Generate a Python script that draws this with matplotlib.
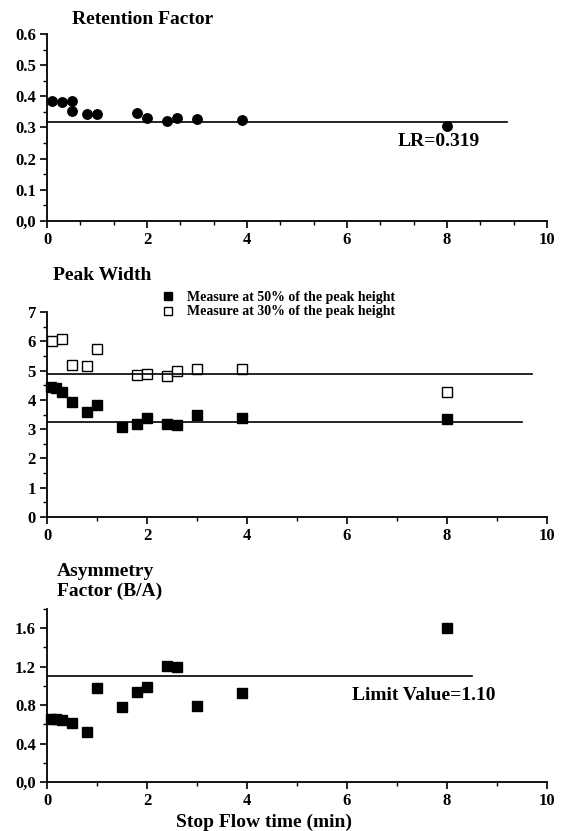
import matplotlib.pyplot as plt
from matplotlib.ticker import MultipleLocator, FuncFormatter
from matplotlib.lines import Line2D

plt.rcParams['font.family'] = 'Liberation Serif'
plt.rcParams['font.weight'] = 'bold'

# stop flow times (min)
t_rf = [0.1, 0.3, 0.5, 0.5, 0.8, 1.0, 1.8, 2.0, 2.4, 2.6, 3.0, 3.9, 8.0]
retention = [0.386, 0.383, 0.386, 0.352, 0.344, 0.344, 0.345, 0.332, 0.320, 0.331, 0.327, 0.323, 0.306]
lr_value = 0.319

t_w30 = [0.1, 0.3, 0.5, 0.8, 1.0, 1.8, 2.0, 2.4, 2.6, 3.0, 3.9, 8.0]
width30 = [6.0, 6.09, 5.18, 5.15, 5.73, 4.86, 4.9, 4.81, 4.98, 5.07, 5.06, 4.26]
mean30 = 4.9

t_w50 = [0.08, 0.17, 0.3, 0.5, 0.8, 1.0, 1.5, 1.8, 2.0, 2.4, 2.6, 3.0, 3.9, 8.0]
width50 = [4.45, 4.42, 4.28, 3.92, 3.57, 3.82, 3.07, 3.16, 3.39, 3.18, 3.14, 3.48, 3.39, 3.35]
mean50 = 3.25

t_as = [0.08, 0.17, 0.3, 0.5, 0.8, 1.0, 1.5, 1.8, 2.0, 2.4, 2.6, 3.0, 3.9, 8.0]
asym = [0.66, 0.66, 0.64, 0.615, 0.52, 0.98, 0.78, 0.935, 0.985, 1.21, 1.20, 0.795, 0.93, 1.60]
limit_value = 1.10

W, H = 563, 831
fig = plt.figure(figsize=(W / 100, H / 100), dpi=100)


def px_axes(left, right, top, bottom):
    return fig.add_axes([left / W, 1 - bottom / H, (right - left) / W, (bottom - top) / H])


def px_text(x, y, s, **kw):
    fig.text(x / W, 1 - y / H, s, **kw)


def style(ax, ymax, ymajor, yminor, xminor, zero_comma=True):
    for s in ('top', 'right'):
        ax.spines[s].set_visible(False)
    for s in ('left', 'bottom'):
        ax.spines[s].set_linewidth(1.3)
    ax.set_xlim(0, 10)
    ax.set_ylim(0, ymax)
    ax.xaxis.set_major_locator(MultipleLocator(2))
    ax.xaxis.set_minor_locator(MultipleLocator(xminor))
    ax.yaxis.set_major_locator(MultipleLocator(ymajor))
    ax.yaxis.set_minor_locator(MultipleLocator(yminor))
    ax.tick_params(which='major', length=5, width=1.2, labelsize=12, pad=3)
    ax.tick_params(which='minor', length=3, width=1.0)
    if zero_comma:
        ax.yaxis.set_major_formatter(FuncFormatter(lambda v, p: '0,0' if abs(v) < 1e-9 else f'{v:.1f}'))
    else:
        ax.yaxis.set_major_formatter(FuncFormatter(lambda v, p: f'{v:.0f}'))


# Retention factor
ax1 = px_axes(47, 547, 34, 221)
style(ax1, 0.6, 0.1, 0.05, 2 / 3)
ax1.plot(t_rf, retention, 'o', color='black', markersize=6.8, clip_on=False)
ax1.plot([0, 9.2], [lr_value, lr_value], color='black', lw=1.2)
ax1.text(7.84, 0.255, f'LR={lr_value:.3f}', fontsize=14, ha='center', va='center')
px_text(72, 20, 'Retention Factor', fontsize=14, va='center')

# Peak width
ax2 = px_axes(47, 547, 312, 517)
style(ax2, 7, 1, 0.5, 1, zero_comma=False)
ax2.plot(t_w50, width50, 's', color='black', markersize=6.5, clip_on=False)
ax2.plot(t_w30, width30, 's', markerfacecolor='white', markeredgecolor='black',
         markersize=6.5, markeredgewidth=1.0, clip_on=False)
ax2.plot([0, 9.7], [mean30, mean30], color='black', lw=1.2)
ax2.plot([0, 9.5], [mean50, mean50], color='black', lw=1.2)
px_text(53, 275, 'Peak Width', fontsize=14, va='center')
handles = [
    Line2D([], [], ls='none', marker='s', color='black', markersize=6),
    Line2D([], [], ls='none', marker='s', markerfacecolor='white', markeredgecolor='black', markersize=6),
]
fig.legend(handles, ['Measure at 50% of the peak height', 'Measure at 30% of the peak height'],
           loc='upper left', bbox_to_anchor=(161 / W, 1 - 291 / H), frameon=False,
           fontsize=10, handlelength=1.0, handletextpad=0.87, labelspacing=0.1,
           borderpad=0, borderaxespad=0)

# Asymmetry factor
ax3 = px_axes(47, 547, 609, 782)
style(ax3, 1.8, 0.4, 0.2, 1)
ax3.plot(t_as, asym, 's', color='black', markersize=6.5, clip_on=False)
ax3.plot([0, 8.5], [limit_value, limit_value], color='black', lw=1.2)
ax3.text(7.53, 0.9, f'Limit Value={limit_value:.2f}', fontsize=14, ha='center', va='center')
px_text(57, 571, 'Asymmetry', fontsize=14, va='center')
px_text(57, 591, 'Factor (B/A)', fontsize=14, va='center')
px_text(264, 822, 'Stop Flow time (min)', fontsize=14, ha='center', va='center')

fig.savefig('out.png', dpi=100)
